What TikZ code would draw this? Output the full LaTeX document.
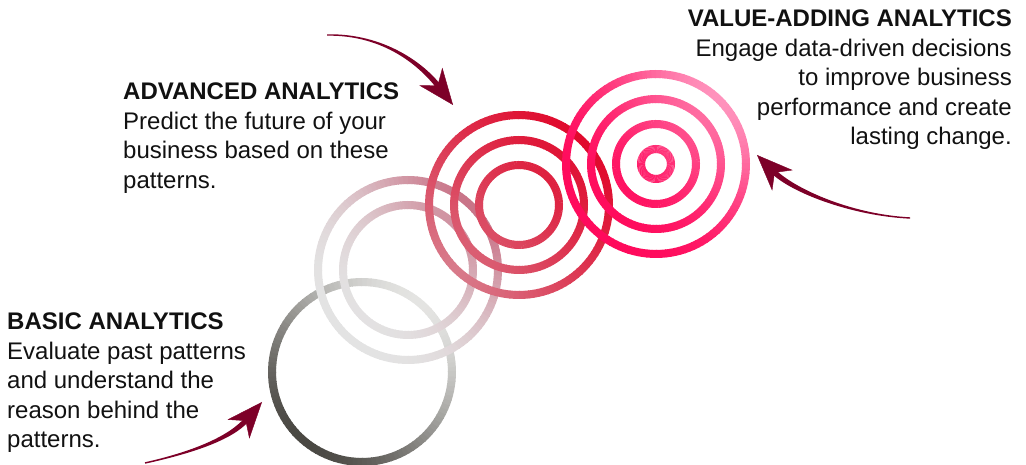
\documentclass[tikz,border=0pt]{standalone}
\usepackage{fontspec}
\setmainfont{Liberation Sans}
\usetikzlibrary{arrows.meta}
\definecolor{maroon}{HTML}{7D0028}
\definecolor{txt}{HTML}{111111}
\definecolor{bA}{HTML}{4A4843}\definecolor{bB}{HTML}{E4E4E2}
\definecolor{gA}{HTML}{E3E3E3}\definecolor{gB}{HTML}{C97488}
\definecolor{rA}{HTML}{D87A8A}\definecolor{rB}{HTML}{E00A2D}
\definecolor{pA}{HTML}{FF0A5C}\definecolor{pB}{HTML}{FF92BC}
% #1 cx, #2 cy, #3 r, #4 colour bottom-left, #5 colour top-right, #6 gamma, #7 direction
\newcommand\gradring[7]{%
  \foreach \a in {0,3,...,357}{%
    \pgfmathsetmacro\gv{100*(max(0.0001,0.5+0.5*(#3/90)*cos(\a+1.5-#7)))^#6}%
    \draw[ring, color=#5!\gv!#4] (#1,#2) ++(\a:#3) arc[start angle=\a, end angle=\a+3.6, radius=#3];
  }}
\begin{document}
\begin{tikzpicture}[x=1pt,y=1pt,
  ring/.style={line width=8pt},
  body/.style={fill=maroon, draw=none},
  head/.style={draw=maroon, line width=0.4pt, -{Stealth[length=36pt,width=29pt,inset=11pt]}},
  txtblock/.style={inner sep=0pt, text=txt, font=\fontsize{24}{29.5}\selectfont}]
\useasboundingbox (0,0) rectangle (1026,465);
% basic
\gradring{362}{93}{90}{bA}{bB}{1}{50}
% grey group
\gradring{408}{195}{90}{gA}{gB}{2.2}{45}
\gradring{408}{195}{65}{gA}{gB}{2.2}{45}
% red group
\gradring{519}{260}{90}{rA}{rB}{0.7}{45}
\gradring{519}{260}{65}{rA}{rB}{0.7}{45}
\gradring{519}{260}{40}{rA}{rB}{0.7}{45}
% pink group
\gradring{656}{301}{90}{pA}{pB}{2.2}{45}
\gradring{656}{301}{65}{pA}{pB}{2.2}{45}
\gradring{656}{301}{40}{pA}{pB}{2.2}{45}
\gradring{656}{301}{15}{pA}{pB}{2.2}{45}
% texts
\node[txtblock, anchor=north west, align=left] (basic) at (7,152.2)
  {\textbf{BASIC ANALYTICS}\\Evaluate past patterns\\and understand the\\reason behind the\\patterns.};
\node[txtblock, anchor=north west, align=left] (adv) at (123,382.2)
  {\textbf{ADVANCED ANALYTICS}\\Predict the future of your\\business based on these\\patterns.};
\node[txtblock, anchor=north east, align=right] (val) at (1012,455.2)
  {\textbf{VALUE-ADDING ANALYTICS}\\Engage data-driven decisions\\to improve business\\performance and create\\lasting change.};
% arrow 1 (to advanced)
\coordinate (s1a) at (327,430.7); \coordinate (s1b) at (327,429.3);
\coordinate (n1a) at (441.1,379.6); \coordinate (n1b) at (436.9,376.4);
\coordinate (n1) at (439,378); \coordinate (t1) at (453,360);
\fill[body] (s1a) .. controls (385,431.8) and (425.1,400.6) .. (n1a)
  -- (n1b) .. controls (420.9,397.4) and (385,430.2) .. (s1b) -- cycle;
\draw[head] (n1) -- (t1);
% arrow 2 (to value-adding)
\coordinate (s2a) at (910,247.7); \coordinate (s2b) at (910,246.3);
\coordinate (n2a) at (775.2,295.6); \coordinate (n2b) at (771.4,291.8);
\coordinate (n2) at (773.3,293.7); \coordinate (t2) at (757,310);
\fill[body] (s2a) .. controls (850,250.8) and (793.9,276.9) .. (n2a)
  -- (n2b) .. controls (790.1,273.1) and (850,249.2) .. (s2b) -- cycle;
\draw[head] (n2) -- (t2);
% arrow 3 (to basic)
\coordinate (s3a) at (144.8,2.7); \coordinate (s3b) at (145.2,1.3);
\coordinate (n3a) at (244.9,47.3); \coordinate (n3b) at (248.9,43.9);
\coordinate (n3) at (246.9,45.6); \coordinate (t3) at (262,63);
\fill[body] (s3a) .. controls (190,12.8) and (228.0,27.7) .. (n3a)
  -- (n3b) .. controls (232.0,24.3) and (190,11.2) .. (s3b) -- cycle;
\draw[head] (n3) -- (t3);
\end{tikzpicture}
\end{document}
